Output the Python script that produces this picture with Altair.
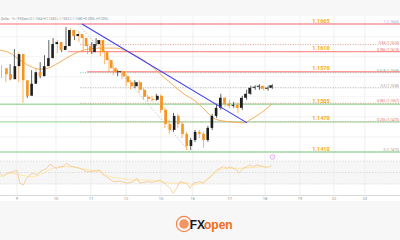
import altair as alt
import pandas as pd

# ---------------- data ----------------
opens = [1.1577, 1.1565, 1.1555, 1.1581, 1.1605, 1.1553, 1.1522, 1.1546, 1.1569, 1.1561,
         1.1581, 1.1597, 1.1625, 1.1629, 1.1613, 1.1621, 1.1653, 1.1641, 1.1645, 1.1637,
         1.1621, 1.1609, 1.1625, 1.1633, 1.1609, 1.1593, 1.1577, 1.1569, 1.1571, 1.1561,
         1.1549, 1.1541, 1.1549, 1.1534, 1.1520, 1.1516, 1.1514, 1.1522, 1.1494, 1.1466,
         1.1454, 1.1482, 1.1466, 1.1446, 1.1422, 1.1434, 1.1450, 1.1446, 1.1434, 1.1458,
         1.1482, 1.1498, 1.1518, 1.1506, 1.1502, 1.1504, 1.1498, 1.1518, 1.1526, 1.1538,
         1.1540, 1.1542, 1.1536, 1.1538]
closes = [1.1565, 1.1555, 1.1581, 1.1605, 1.1553, 1.1522, 1.1546, 1.1569, 1.1561, 1.1581,
          1.1597, 1.1625, 1.1629, 1.1613, 1.1621, 1.1653, 1.1641, 1.1645, 1.1637, 1.1621,
          1.1609, 1.1625, 1.1633, 1.1609, 1.1593, 1.1577, 1.1569, 1.1571, 1.1561, 1.1549,
          1.1541, 1.1549, 1.1534, 1.1520, 1.1516, 1.1514, 1.1522, 1.1494, 1.1466, 1.1454,
          1.1482, 1.1466, 1.1446, 1.1422, 1.1434, 1.1450, 1.1446, 1.1434, 1.1458, 1.1482,
          1.1498, 1.1518, 1.1506, 1.1502, 1.1504, 1.1498, 1.1518, 1.1526, 1.1538, 1.1540,
          1.1542, 1.1536, 1.1538, 1.1543]
highs = [1.1583, 1.1569, 1.1585, 1.1615, 1.1609, 1.1553, 1.1549, 1.1573, 1.1577, 1.1589,
         1.1603, 1.1633, 1.1637, 1.1633, 1.1629, 1.1659, 1.1657, 1.1653, 1.1651, 1.1641,
         1.1625, 1.1629, 1.1637, 1.1633, 1.1613, 1.1597, 1.1581, 1.1573, 1.1573, 1.1565,
         1.1553, 1.1553, 1.1553, 1.1537, 1.1524, 1.1522, 1.1526, 1.1524, 1.1498, 1.1474,
         1.1488, 1.1486, 1.1470, 1.1450, 1.1438, 1.1454, 1.1454, 1.1450, 1.1462, 1.1486,
         1.1506, 1.1526, 1.1520, 1.1514, 1.1510, 1.1508, 1.1522, 1.1534, 1.1542, 1.1543,
         1.1545, 1.1542, 1.1542, 1.1545]
lows = [1.1557, 1.1549, 1.1553, 1.1579, 1.1549, 1.1508, 1.1518, 1.1541, 1.1553, 1.1557,
        1.1577, 1.1593, 1.1617, 1.1607, 1.1609, 1.1617, 1.1633, 1.1633, 1.1629, 1.1613,
        1.1605, 1.1605, 1.1621, 1.1601, 1.1585, 1.1569, 1.1563, 1.1561, 1.1555, 1.1541,
        1.1535, 1.1537, 1.1528, 1.1514, 1.1510, 1.1510, 1.1512, 1.1488, 1.1458, 1.1446,
        1.1450, 1.1458, 1.1438, 1.1414, 1.1414, 1.1430, 1.1438, 1.1418, 1.1430, 1.1454,
        1.1478, 1.1494, 1.1500, 1.1498, 1.1498, 1.1488, 1.1494, 1.1514, 1.1524, 1.1534,
        1.1534, 1.1532, 1.1532, 1.1536]

ma_pos = [-0.35, 1.98, 4.3, 6.63, 8.95, 10.81, 13.14, 15.47, 17.79, 20.12, 22.9, 26.4,
          28.7, 31.05, 33.4, 35.7, 38.0, 40.35, 42.7, 45.0, 47.3, 49.2, 51.3, 53.6, 56.2,
          57.8, 59.65, 61.3, 62.9]
ma_val = [1.1613, 1.1607, 1.1593, 1.1581, 1.1575, 1.1577, 1.1587, 1.1599, 1.1609, 1.1615,
          1.1617, 1.1617, 1.1613, 1.1603, 1.1591, 1.1575, 1.1557, 1.1540, 1.1524, 1.1512,
          1.1494, 1.1478, 1.1472, 1.1470, 1.1468, 1.1474, 1.1484, 1.1494, 1.1506]

trend_pos = [18.72, 57.1]
trend_val = [1.1665, 1.1468]
diag_pos = [17.8, 43.8]
diag_val = [1.1665, 1.1410]

level_val = [1.1665, 1.1610, 1.1570, 1.1505, 1.1470, 1.1410]
level_txt = ["1.1665", "1.1610", "1.1570", "1.1505", "1.1470", "1.1410"]
level_from = [-0.35, 15.5, 19.9, -0.35, -0.35, -0.35]
level_kind = ["res", "res", "res", "sup", "sup", "sup"]

fib_val = [1.1665, 1.1624, 1.1610, 1.1568, 1.1538, 1.1507, 1.1470, 1.1410]
fib_txt = ["1 (1.1665)", "0.84 (1.1624)", "0.786 (1.1610)", "0.618 (1.1568)",
           "0.5 (1.1538)", "0.382 (1.1507)", "0.236 (1.1470)", "0 (1.1410)"]
fib_col = ["#7fb3e6", "#d98080", "#d96b6b", "#59b89a", "#9a9a9a", "#e07070", "#e07070", "#9a9a9a"]

day_pos = [3.6, 12.67, 20.8, 28.95, 37.1, 44.5, 53.1, 61.3, 69.4, 77.3, 84.5]
day_txt = ["9", "10", "11", "12", "15", "16", "17", "18", "19", "22", "23"]
grid_val = [1.1440, 1.1480, 1.1520, 1.1560, 1.1600, 1.1640]

rsi_pos = [-0.35, 0.42, 1.21, 2.74, 3.53, 4.3, 5.07, 5.86, 6.63, 7.40, 8.19, 8.95, 9.72,
           10.51, 11.28, 12.05, 12.84, 13.6, 14.37, 15.16, 15.93, 16.7, 18.26, 19.81, 21.35,
           22.9, 23.67, 24.47, 26.0, 27.56, 29.12, 30.65, 31.44, 32.2, 33.77, 35.3, 36.86,
           38.42, 39.19, 39.95, 40.74, 41.5, 43.07, 43.84, 44.6, 46.16, 46.93, 47.72, 48.49,
           49.26, 50.05, 50.81, 51.58, 52.37, 53.14, 53.91, 54.7, 55.09, 55.47, 56.23, 57.02,
           57.79, 58.56, 59.35, 60.12, 60.88, 61.67, 62.44, 62.84]
rsi_val = [48.6, 42.7, 48.6, 51.4, 54.3, 31.2, 28.3, 39.9, 45.7, 48.6, 45.7, 51.4, 54.3,
           57.3, 64.8, 60.1, 57.3, 60.1, 61.0, 66.0, 61.3, 60.1, 57.3, 51.4, 52.0,
           54.3, 45.7, 42.7, 34.0, 35.0, 31.2, 34.0, 39.9, 31.2, 34.0, 33.0, 37.0,
           28.3, 22.5, 13.8, 22.5, 34.0, 31.2, 22.5, 31.2, 34.0, 31.2, 37.0, 42.7,
           48.6, 54.3, 57.3, 60.1, 57.3, 60.1, 57.3, 54.3, 48.6, 51.4, 57.3, 60.1,
           63.0, 60.1, 63.0, 62.0, 60.1, 59.0, 60.1, 63.0]
sig_pos = [-0.35, 1.98, 4.3, 7.33, 9.65, 11.98, 15.23, 18.26, 20.58, 22.9, 25.23, 27.56,
           30.58, 33.84, 36.86, 39.88, 43.14, 44.53, 46.16, 47.79, 49.19, 50.81, 52.44,
           55.47, 58.49, 60.12, 61.74]
sig_val = [42.7, 48.6, 45.7, 42.7, 48.6, 57.3, 60.1, 57.3, 54.3, 51.4, 42.7, 39.9,
           37.0, 37.0, 34.0, 31.2, 31.2, 28.3, 31.2, 37.0, 45.7, 54.3, 57.3,
           57.3, 59.0, 60.1, 60.1]
rsi_levels = [70, 50, 30]
event_pos = [63.05]

# ---------------- tables ----------------
candles = pd.DataFrame({"i": list(range(len(closes))), "o": opens, "h": highs,
                        "l": lows, "c": closes})
candles["dir"] = ["up" if c >= o else "down" for o, c in zip(opens, closes)]
ma = pd.DataFrame({"i": ma_pos, "p": ma_val})
trend = pd.DataFrame({"i": trend_pos, "p": trend_val})
diag = pd.DataFrame({"i": diag_pos, "p": diag_val})
levels = pd.DataFrame({"p": level_val, "t": level_txt, "i0": level_from, "k": level_kind})
levels["i1"] = 92.7
fibs = pd.DataFrame({"p": fib_val, "t": fib_txt, "col": fib_col})
fibs["i0"] = 18.3
fibs["i1"] = 92.7
days = pd.DataFrame({"i": day_pos, "t": day_txt})
grid = pd.DataFrame({"p": grid_val})
rsi = pd.DataFrame({"i": rsi_pos, "r": rsi_val})
sig = pd.DataFrame({"i": sig_pos, "r": sig_val})
rlev = pd.DataFrame({"r": rsi_levels})
events = pd.DataFrame({"i": event_pos})
one = pd.DataFrame({"a": [0]})

XS = alt.Scale(domain=[-0.3488, 92.674], range=[0, 400], nice=False, zero=False)
PS = alt.Scale(domain=[1.1410, 1.1665], range=[152, 24], nice=False, zero=False)
RS = alt.Scale(domain=[30, 70], range=[184, 161], nice=False, zero=False)
FONT = "Roboto"


def X(f="i"):
    return alt.X(f"{f}:Q", scale=XS, axis=None)


def P(f="p"):
    return alt.Y(f"{f}:Q", scale=PS, axis=None)


def R(f="r"):
    return alt.Y(f"{f}:Q", scale=RS, axis=None)


layers = []
# backgrounds
layers.append(alt.Chart(one).mark_rect(color="#f7f7f7").encode(
    x=alt.value(0), x2=alt.value(400), y=alt.value(0), y2=alt.value(16)))
layers.append(alt.Chart(one).mark_rect(color="#f7f7f7").encode(
    x=alt.value(0), x2=alt.value(400), y=alt.value(201), y2=alt.value(240)))
layers.append(alt.Chart(one).mark_rect(color="#f6f6f6").encode(
    x=alt.value(0), x2=alt.value(400), y=alt.value(161), y2=alt.value(184)))
# grid
layers.append(alt.Chart(days).mark_rule(color="#ececec", strokeWidth=0.8).encode(
    x=X(), y=alt.value(16), y2=alt.value(196)))
layers.append(alt.Chart(grid).mark_rule(color="#f0f0f0", strokeWidth=0.8).encode(
    y=P(), x=alt.value(0), x2=alt.value(400)))
layers.append(alt.Chart(rlev).mark_rule(color="#cfcfcf", strokeWidth=0.6, strokeDash=[1.5, 1.5]).encode(
    y=R(), x=alt.value(0), x2=alt.value(400)))
# x axis
layers.append(alt.Chart(one).mark_rule(color="#d0d0d0", strokeWidth=0.8).encode(
    x=alt.value(0), x2=alt.value(400), y=alt.value(195.5)))
layers.append(alt.Chart(days).mark_text(fontSize=4, color="#8a8a8a", font=FONT, baseline="middle").encode(
    x=X(), y=alt.value(198.5), text="t:N"))
# fib dotted lines
layers.append(alt.Chart(fibs).mark_rule(strokeWidth=0.8, strokeDash=[1, 1.5]).encode(
    x=X("i0"), x2="i1:Q", y=P(), color=alt.Color("col:N", scale=None)))
layers.append(alt.Chart(fibs).mark_text(fontSize=3.4, align="right", dy=-2, font=FONT).encode(
    x=alt.value(399), y=P(), text="t:N", color=alt.Color("col:N", scale=None)))
# support / resistance lines
layers.append(alt.Chart(levels).mark_rule(strokeWidth=1.4, opacity=0.75).encode(
    x=X("i0"), x2="i1:Q", y=P(),
    color=alt.Color("k:N", scale=alt.Scale(domain=["res", "sup"], range=["#ff7b7b", "#8fd18f"]), legend=None)))
layers.append(alt.Chart(levels).mark_text(fontSize=5.5, fontWeight="bold", color="#f5a623", dy=-3.5, font=FONT).encode(
    x=alt.value(321), y=P(), text="t:N"))
# gray diagonal (fib tool)
layers.append(alt.Chart(diag).mark_line(color="#b5b5b5", strokeWidth=0.7, strokeDash=[1.5, 1.5]).encode(
    x=X(), y=P()))
# moving average
layers.append(alt.Chart(ma).mark_line(color="#f5a64a", strokeWidth=0.9, interpolate="monotone").encode(
    x=X(), y=P()))
# candles
cscale = alt.Scale(domain=["up", "down"], range=["#1e1e1e", "#f7931e"])
layers.append(alt.Chart(candles).mark_rule(strokeWidth=0.7).encode(
    x=X(), y=P("l"), y2="h:Q", color=alt.Color("dir:N", scale=cscale, legend=None)))
layers.append(alt.Chart(candles).mark_bar(size=2.6).encode(
    x=X(), y=P("o"), y2="c:Q", color=alt.Color("dir:N", scale=cscale, legend=None)))
# blue trendline
layers.append(alt.Chart(trend).mark_line(color="#3d3df0", strokeWidth=1.1).encode(
    x=X(), y=P()))
# RSI panel
layers.append(alt.Chart(sig).mark_line(color="#fbe7a6", strokeWidth=0.9, interpolate="monotone").encode(
    x=X(), y=R()))
layers.append(alt.Chart(rsi).mark_line(color="#f6c58a", strokeWidth=0.8).encode(
    x=X(), y=R()))
# event marker
layers.append(alt.Chart(events).mark_point(shape="circle", size=22, color="#c27be0", filled=False, strokeWidth=0.8).encode(
    x=X(), y=alt.value(157)))
layers.append(alt.Chart(events).mark_text(text="i", fontSize=4, color="#c27be0", font=FONT, baseline="middle").encode(
    x=X(), y=alt.value(157)))
# header
layers.append(alt.Chart(one).mark_text(
    text="Dollar · 1h · FXOpen  O:1.1564  H:1.1582  L:1.1563  C:1.1580  +0.0006 (+0.05%)",
    fontSize=3.2, color="#8a8a8a", align="left", baseline="middle", font=FONT).encode(
    x=alt.value(1), y=alt.value(19)))
# logo
layers.append(alt.Chart(one).mark_point(shape="circle", size=230, color="#f26a21", filled=False, strokeWidth=1.2, opacity=0.8).encode(
    x=alt.value(184), y=alt.value(224)))
layers.append(alt.Chart(one).mark_point(shape="circle", size=90, color="#f26a21", filled=True, opacity=0.7).encode(
    x=alt.value(184), y=alt.value(224)))
layers.append(alt.Chart(one).mark_text(text="FX", fontSize=12, fontWeight="bold", color="#1a1a1a",
                                       align="right", baseline="middle", font="Liberation Sans").encode(
    x=alt.value(205), y=alt.value(225)))
layers.append(alt.Chart(one).mark_text(text="open", fontSize=12, fontWeight="bold", color="#f26a21",
                                       align="left", baseline="middle", font="Liberation Sans").encode(
    x=alt.value(204), y=alt.value(225)))

chart = alt.layer(*layers).resolve_scale(
    x="independent", y="independent", color="independent"
).properties(
    width=400, height=240, autosize=alt.AutoSizeParams(type="none"), padding=0, background="white"
).configure_view(stroke=None)

chart.save("out.html", embed_options={"renderer": "svg", "actions": False})
